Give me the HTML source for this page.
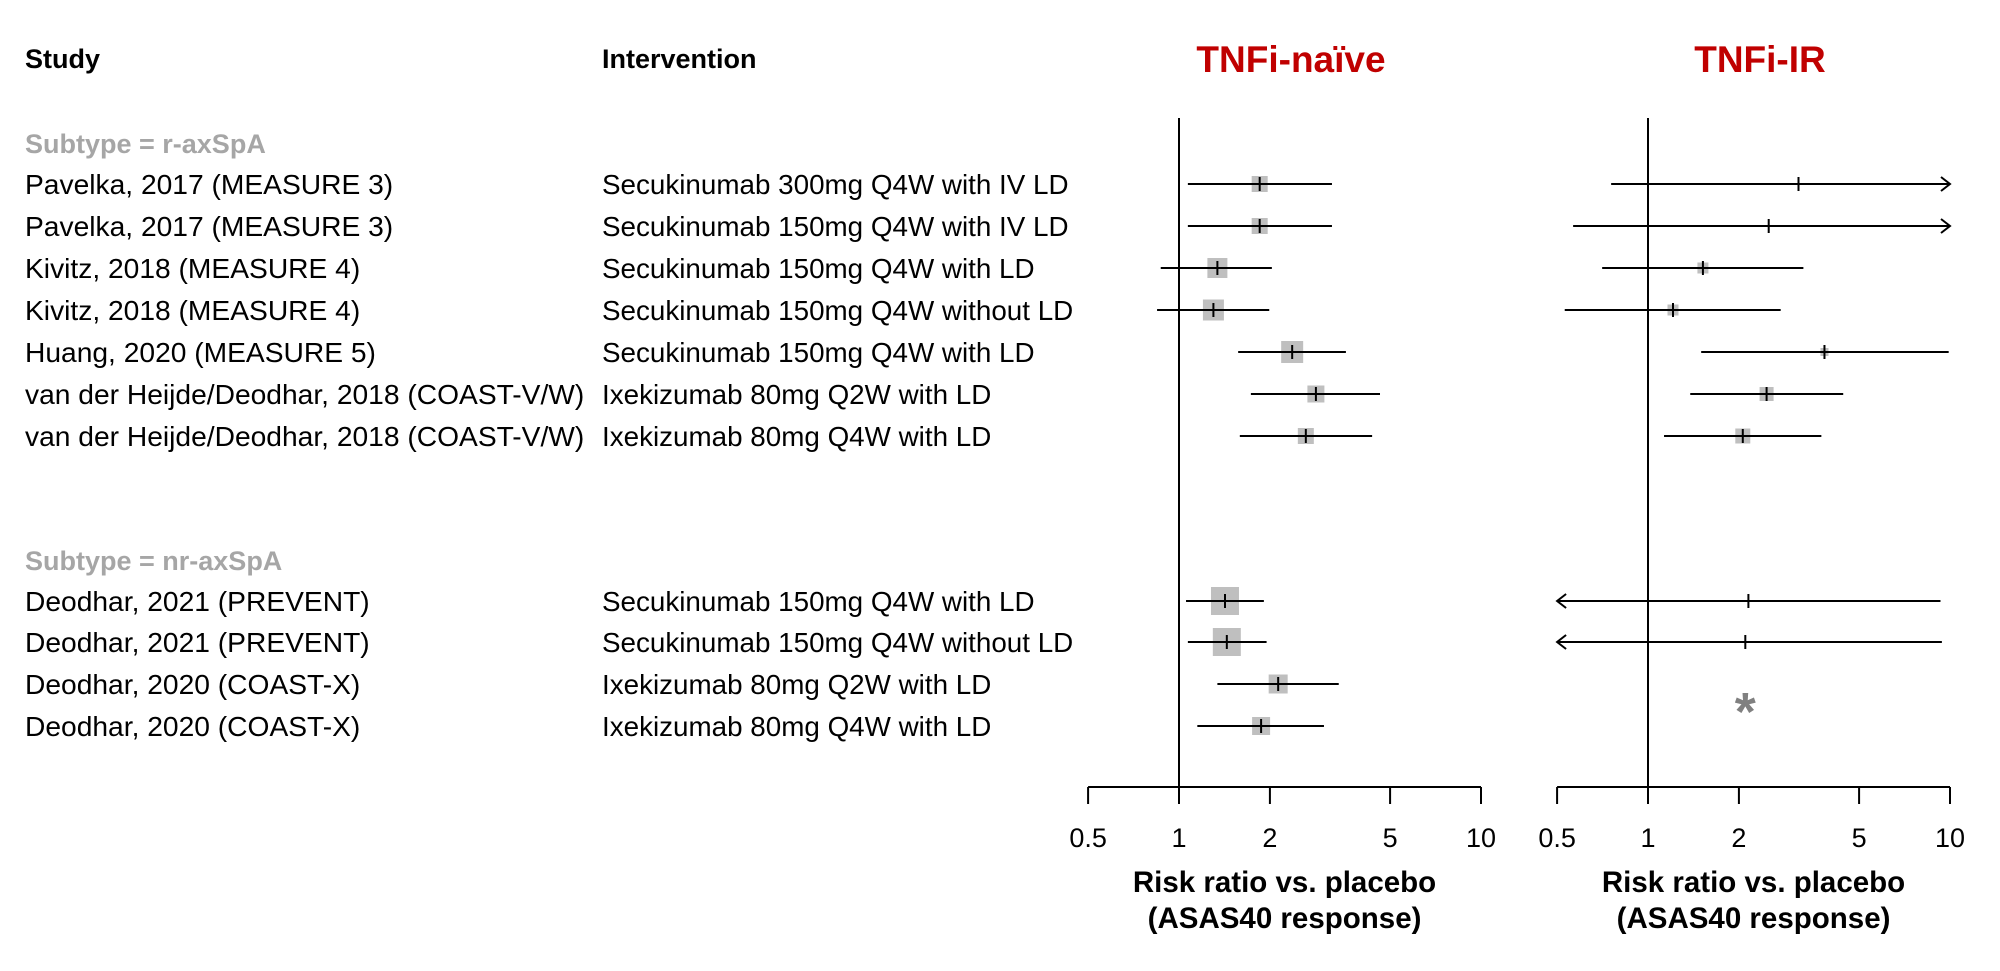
<!DOCTYPE html>
<html><head><meta charset="utf-8">
<style>
body{margin:0;background:#fff;}
svg{display:block;font-family:"Liberation Sans",Arial,sans-serif;}
</style></head>
<body>
<svg id="chart" width="2000" height="971" viewBox="0 0 2000 971" xmlns="http://www.w3.org/2000/svg">
<text x="25" y="68" font-size="27" font-weight="bold">Study</text>
<text x="602" y="68" font-size="27" font-weight="bold">Intervention</text>
<text x="1291" y="72" font-size="37" font-weight="bold" fill="#c00000" text-anchor="middle">TNFi-naïve</text>
<text x="1760" y="72" font-size="37" font-weight="bold" fill="#c00000" text-anchor="middle">TNFi-IR</text>
<g id="rows"></g>
<g id="panels"></g>
</svg>
<script>
const studies = ["Pavelka, 2017 (MEASURE 3)","Pavelka, 2017 (MEASURE 3)","Kivitz, 2018 (MEASURE 4)","Kivitz, 2018 (MEASURE 4)","Huang, 2020 (MEASURE 5)","van der Heijde/Deodhar, 2018 (COAST-V/W)","van der Heijde/Deodhar, 2018 (COAST-V/W)","Deodhar, 2021 (PREVENT)","Deodhar, 2021 (PREVENT)","Deodhar, 2020 (COAST-X)","Deodhar, 2020 (COAST-X)"];
const interventions = ["Secukinumab 300mg Q4W with IV LD","Secukinumab 150mg Q4W with IV LD","Secukinumab 150mg Q4W with LD","Secukinumab 150mg Q4W without LD","Secukinumab 150mg Q4W with LD","Ixekizumab 80mg Q2W with LD","Ixekizumab 80mg Q4W with LD","Secukinumab 150mg Q4W with LD","Secukinumab 150mg Q4W without LD","Ixekizumab 80mg Q2W with LD","Ixekizumab 80mg Q4W with LD"];
const subtypes = ["Subtype = r-axSpA","Subtype = nr-axSpA"];
const naiveEst = [1.85,1.85,1.34,1.30,2.37,2.84,2.63,1.42,1.44,2.13,1.87];
const naiveLo  = [1.07,1.07,0.87,0.846,1.57,1.73,1.59,1.055,1.07,1.34,1.15];
const naiveHi  = [3.21,3.21,2.03,1.99,3.57,4.63,4.36,1.91,1.95,3.38,3.02];
const naiveW   = [16,16,20,21,22,17,16,28,28,19,18];
const irEst = [3.15,2.51,1.52,1.21,3.84,2.47,2.06,2.15,2.10,null,null];
const irLo  = [0.755,0.565,0.705,0.53,1.50,1.38,1.13,0.40,0.40,null,null];
const irHi  = [12,12,3.27,2.75,9.9,4.43,3.75,9.3,9.4,null,null];
const irW   = [3,3,11,11,8,14,15,3,3,0,0];
const tickVals = [0.5,1,2,5,10];
const tickLabels = ["0.5","1","2","5","10"];

const NS="http://www.w3.org/2000/svg";
const svg=document.getElementById('chart');
function mk(tag,attrs,parent){const e=document.createElementNS(NS,tag);for(const k in attrs)e.setAttribute(k,attrs[k]);(parent||svg).appendChild(e);return e;}
const rowY=[184,226,268,310,352,394,436,601,642,684,726];
const subY=[143,560];
const rowsG=document.getElementById('rows');
subtypes.forEach((s,i)=>{const t=mk('text',{x:25,y:subY[i]+10,'font-size':27,'font-weight':'bold',fill:'#a6a6a6'},rowsG);t.textContent=s;

});
studies.forEach((s,i)=>{const t=mk('text',{x:25,y:rowY[i]+10,'font-size':28.2},rowsG);t.textContent=s;


const u=mk('text',{x:602,y:rowY[i]+10,'font-size':27.8},rowsG);u.textContent=interventions[i];

});

const AXY=787, TOP=118, DEC=302;
function panel(x1,est,lo,hi,w,name){
  const g=mk('g',{},document.getElementById('panels'));
  
  
  const X=v=>x1+Math.log10(v)*DEC;
  const xmin=X(0.5),xmax=X(10);
  mk('line',{x1:X(1),y1:TOP,x2:X(1),y2:AXY,stroke:'#000','stroke-width':2},g);
  const ax=mk('line',{x1:xmin,y1:AXY,x2:xmax,y2:AXY,stroke:'#000','stroke-width':2},g);
  
  
  tickVals.forEach((v,i)=>{mk('line',{x1:X(v),y1:AXY,x2:X(v),y2:AXY+17,stroke:'#000','stroke-width':2},g);
    const t=mk('text',{x:X(v),y:847,'font-size':27,'text-anchor':'middle'},g);t.textContent=tickLabels[i];
    
    });
  const cx=(xmin+xmax)/2;
  const a=mk('text',{x:cx,y:892,'font-size':29.5,'font-weight':'bold','text-anchor':'middle'},g);a.textContent='Risk ratio vs. placebo';
  
  
  const b=mk('text',{x:cx,y:928,'font-size':29.5,'font-weight':'bold','text-anchor':'middle'},g);b.textContent='(ASAS40 response)';
  
  
  est.forEach((e,i)=>{
    const y=rowY[i];
    if(e===null){return;}
    const l=Math.max(X(lo[i]),xmin), r=Math.min(X(hi[i]),xmax), px=X(e);
    if(w[i]>4){const bx=mk('rect',{x:px-w[i]/2,y:y-w[i]/2,width:w[i],height:w[i],fill:'#bfbfbf'},g);
      
      }
    const ln=mk('line',{x1:l,y1:y,x2:r,y2:y,stroke:'#000','stroke-width':2},g);
    
    
    mk('line',{x1:px,y1:y-7,x2:px,y2:y+7,stroke:'#000','stroke-width':2},g);
    if(hi[i]>10) mk('polyline',{points:`${xmax-9},${y-7} ${xmax},${y} ${xmax-9},${y+7}`,fill:'none',stroke:'#000','stroke-width':2},g);
    if(lo[i]<0.5) mk('polyline',{points:`${xmin+9},${y-7} ${xmin},${y} ${xmin+9},${y+7}`,fill:'none',stroke:'#000','stroke-width':2},g);
  });
  return X;
}
panel(1179,naiveEst,naiveLo,naiveHi,naiveW,'tnfi-naive-panel');
const XI=panel(1648,irEst,irLo,irHi,irW,'tnfi-ir-panel');
const ast=mk('text',{x:XI(2.1),y:730,'font-size':54,'font-weight':'bold',fill:'#808080','text-anchor':'middle'});
ast.textContent='*';


</script>
</body></html>
